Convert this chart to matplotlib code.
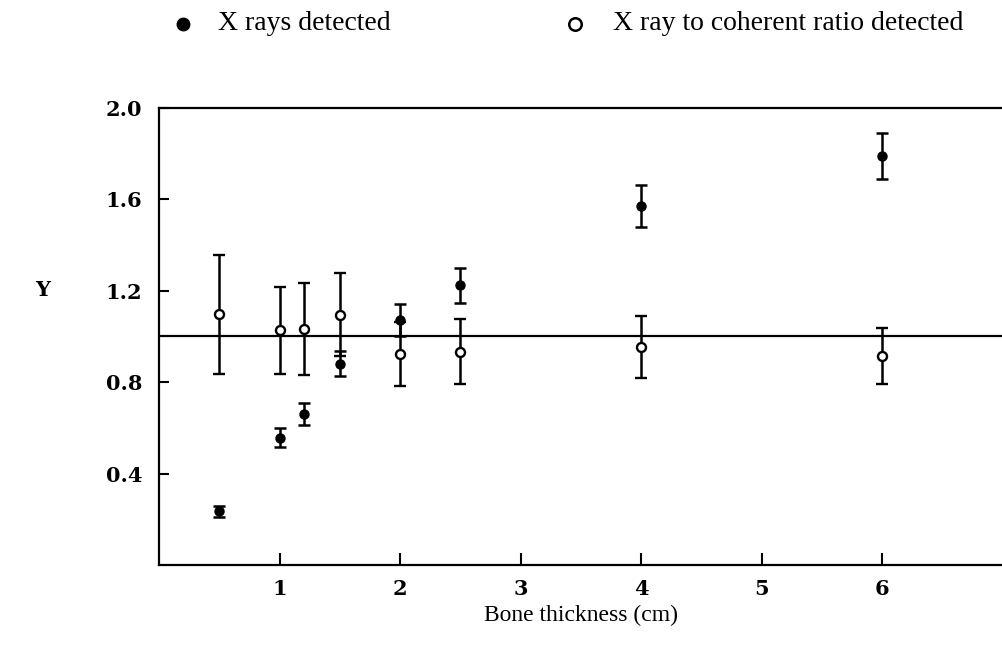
import numpy as np
import matplotlib
matplotlib.use("Agg")
import matplotlib.pyplot as plt

plt.rcParams["font.family"] = ["Liberation Serif", "DejaVu Serif"]

# bone thickness (cm)
thickness = [0.5, 1.0, 1.2, 1.5, 2.0, 2.5, 4.0, 6.0]

# X rays detected (filled)
xray = [0.235, 0.557, 0.662, 0.880, 1.070, 1.223, 1.570, 1.787]
xray_err = [0.025, 0.043, 0.048, 0.055, 0.070, 0.077, 0.090, 0.100]

# X ray to coherent ratio detected (open)
ratio = [1.096, 1.026, 1.032, 1.095, 0.922, 0.932, 0.953, 0.914]
ratio_err = [0.26, 0.19, 0.20, 0.18, 0.14, 0.142, 0.137, 0.124]

reference = 1.0
yticks = [0.4, 0.8, 1.2, 1.6, 2.0]
xticks = [1, 2, 3, 4, 5, 6]

fig = plt.figure(figsize=(10.03, 6.48), dpi=100)
ax = fig.add_axes([0.1585, 0.128, 0.8415, 0.706])

ax.axhline(reference, color="black", lw=1.6, zorder=1)

ax.errorbar(thickness, xray, yerr=xray_err, fmt="o", ms=6.5, mfc="black",
            mec="black", ecolor="black", elinewidth=1.8, capsize=4, capthick=1.8,
            zorder=3)
ax.errorbar(thickness, ratio, yerr=ratio_err, fmt="o", ms=6.5, mfc="white",
            mec="black", mew=1.7, ecolor="black", elinewidth=1.8, capsize=4,
            capthick=1.8, zorder=3)

ax.set_xlim(0, 7)
ax.set_ylim(0, 2.0)
ax.set_xticks(xticks)
ax.set_yticks(yticks)
ax.set_yticklabels([f"{v:.1f}" for v in yticks])

for s in ["left", "bottom", "top"]:
    ax.spines[s].set_linewidth(1.6)
ax.spines["right"].set_visible(False)

ax.tick_params(axis="y", direction="in", length=7, width=1.5, pad=12)
ax.tick_params(axis="x", direction="in", length=9, width=1.5, pad=10)
for lab in ax.get_xticklabels() + ax.get_yticklabels():
    lab.set_fontfamily("DejaVu Serif")
    lab.set_fontweight("bold")
    lab.set_fontsize(15)

ax.set_xlabel("Bone thickness (cm)", fontsize=17, labelpad=4)
fig.text(43 / 1003, 1 - 290 / 648, "Y", fontsize=15, fontweight="bold",
         family="DejaVu Serif", ha="center", va="center")

# legend at top
ly = 1 - 24 / 648
fig.lines.append(plt.Line2D([183 / 1003], [ly], marker="o", ms=9,
                            color="black", transform=fig.transFigure))
fig.text(218 / 1003, ly, "X rays detected", fontsize=20, va="center", ha="left")
fig.lines.append(plt.Line2D([575 / 1003], [ly], marker="o", ms=9,
                            mfc="white", mec="black", mew=1.8,
                            transform=fig.transFigure))
fig.text(613 / 1003, ly, "X ray to coherent ratio detected", fontsize=20,
         va="center", ha="left")

fig.savefig("out.png", dpi=100, facecolor="white")
